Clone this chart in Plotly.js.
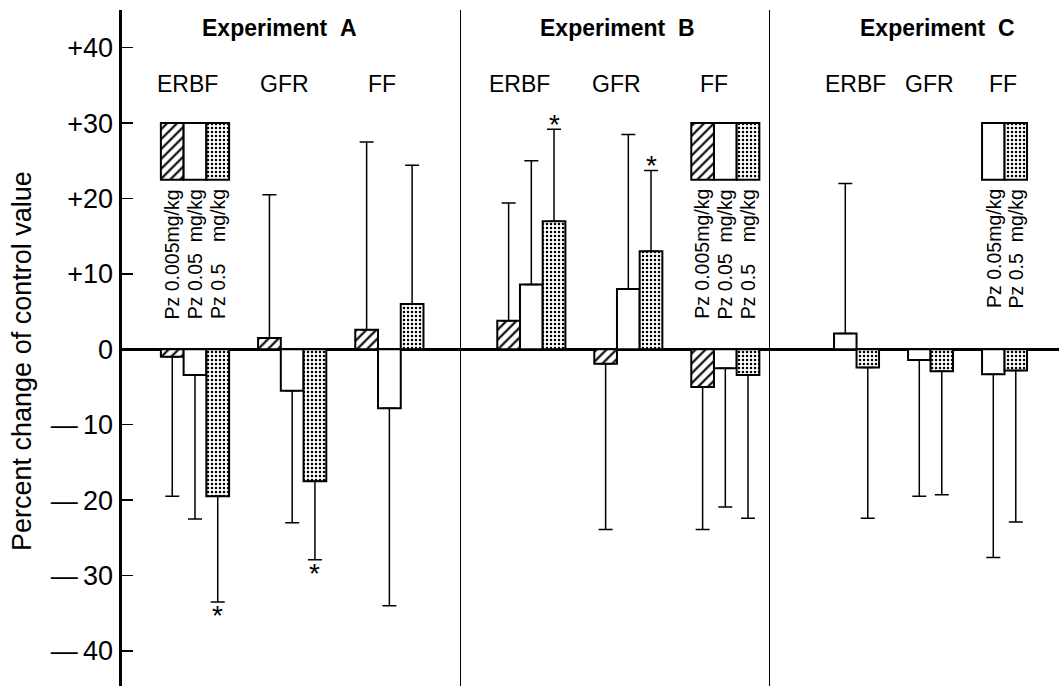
<!DOCTYPE html>
<html><head><meta charset="utf-8">
<script src="https://cdn.plot.ly/plotly-3.0.1.min.js"></script>
<style>html,body{margin:0;padding:0;background:#fff}</style>
</head><body><div id="chart" style="width:1059px;height:686px"></div>
<script>
// ---------------- data ----------------
const groups = ['ERBF', 'GFR', 'FF'];
const experiments = ['Experiment\u00a0\u00a0A', 'Experiment\u00a0\u00a0B', 'Experiment\u00a0\u00a0C'];
const doseNames = ['Pz 0.005mg/kg', 'Pz 0.05\u00a0\u00a0mg/kg', 'Pz 0.5\u00a0\u00a0\u00a0\u00a0mg/kg'];
const doseNamesC = ['Pz 0.05mg/kg', 'Pz 0.5\u00a0\u00a0mg/kg'];

// Experiment A (mean % change, SD)
const expA_low = [-1.0, 1.5, 2.6];
const expA_low_sd = [18.5, 19.0, 24.9];
const expA_mid = [-3.4, -5.5, -7.8];
const expA_mid_sd = [19.1, 17.5, 26.2];
const expA_high = [-19.5, -17.5, 6.0];
const expA_high_sd = [14.0, 10.4, 18.4];
const expA_high_sig = [true, true, false];

// Experiment B
const expB_low = [3.8, -1.9, -5.0];
const expB_low_sd = [15.6, 22.0, 18.9];
const expB_mid = [8.6, 8.0, -2.5];
const expB_mid_sd = [16.4, 20.5, 18.4];
const expB_high = [17.0, 13.0, -3.4];
const expB_high_sd = [12.2, 10.7, 19.0];
const expB_high_sig = [true, true, false];

// Experiment C
const expC_mid = [2.1, -1.4, -3.3];
const expC_mid_sd = [19.9, 18.1, 24.3];
const expC_high = [-2.4, -2.9, -2.8];
const expC_high_sd = [20.0, 16.4, 20.1];

// legend key boxes (drawn on the scale, base and height in % units)
const keyGroup = ['ERBF', 'FF', 'FF'];
const keyBase = 22.5;
const keyHeight = 7.5;

const yTickVals = [40, 30, 20, 10, 0, -10, -20, -30, -40];
const yTickText = ['+40', '+30', '+20', '+10', '0', '\u2014\u200910', '\u2014\u200920', '\u2014\u200930', '\u2014\u200940'];

// ---------------- styles ----------------
const REG = 'Liberation Sans, Arial, sans-serif';
const styles = {
  low: {pattern: {shape: '/', fgcolor: '#000', bgcolor: '#fff', size: 7, solidity: 0.3}},
  mid: {pattern: {shape: '', fgcolor: '#000', bgcolor: '#fff'}},
  high: {pattern: {shape: '.', fgcolor: '#000', bgcolor: '#fff', size: 4, solidity: 0.3}}
};

const panels = [
  {xa: 'x', ya: 'y', series: [
      {key: 'low', v: expA_low, sd: expA_low_sd},
      {key: 'mid', v: expA_mid, sd: expA_mid_sd},
      {key: 'high', v: expA_high, sd: expA_high_sd, sig: expA_high_sig}],
   w: 0.234, labelShift: -0.08, names: doseNames, key: keyGroup[0]},
  {xa: 'x2', ya: 'y2', series: [
      {key: 'low', v: expB_low, sd: expB_low_sd},
      {key: 'mid', v: expB_mid, sd: expB_mid_sd},
      {key: 'high', v: expB_high, sd: expB_high_sd, sig: expB_high_sig}],
   w: 0.234, labelShift: -0.12, names: doseNames, key: keyGroup[1]},
  {xa: 'x3', ya: 'y3', series: [
      {key: 'mid', v: expC_mid, sd: expC_mid_sd},
      {key: 'high', v: expC_high, sd: expC_high_sd}],
   w: 0.304, labelShift: -0.02, names: doseNamesC, key: keyGroup[2]}
];

const traces = [];
const annotations = [];

panels.forEach((p, pi) => {
  const n = p.series.length;
  p.series.forEach((s, si) => {
    const off = (si - n / 2) * p.w;
    const plus = s.v.map((v, i) => v >= 0 ? s.sd[i] : 0);
    const minus = s.v.map((v, i) => v < 0 ? s.sd[i] : 0);
    traces.push({
      type: 'bar', x: groups, y: s.v, xaxis: p.xa, yaxis: p.ya,
      width: p.w, offset: off, showlegend: false, hoverinfo: 'y',
      marker: {color: '#fff', line: {color: '#000', width: 2}, pattern: styles[s.key].pattern},
      error_y: {type: 'data', symmetric: false, array: plus, arrayminus: minus,
                color: '#000', thickness: 1.5, width: 7}
    });
    // legend key box
    traces.push({
      type: 'bar', x: [p.key], y: [keyHeight], base: keyBase, xaxis: p.xa, yaxis: p.ya,
      width: p.w, offset: off, showlegend: false, hoverinfo: 'skip',
      marker: {color: '#fff', line: {color: '#000', width: 2}, pattern: styles[s.key].pattern}
    });
    // legend text (rotated)
    annotations.push({
      xref: p.xa, yref: p.ya, x: groups.indexOf(p.key) + off + p.w / 2, y: keyBase - 1.0,
      text: p.names[si], textangle: -90, showarrow: false, xanchor: 'center', yanchor: 'top',
      font: {family: REG, size: 19.5, color: '#000'}
    });
    // significance marks
    if (s.sig) {
      s.sig.forEach((sg, i) => {
        if (!sg) return;
        const end = s.v[i] >= 0 ? s.v[i] + s.sd[i] : s.v[i] - s.sd[i];
        annotations.push({
          xref: p.xa, yref: p.ya, x: i + off + p.w / 2, y: end, text: '*', showarrow: false,
          xanchor: 'center', yanchor: 'middle', yshift: s.v[i] >= 0 ? 5 : -14,
          font: {family: REG, size: 28, color: '#000'}
        });
      });
    }
  });
  // group labels
  groups.forEach((g, i) => {
    annotations.push({
      xref: p.xa, yref: p.ya, x: i + p.labelShift, y: 35.2, text: g, showarrow: false,
      xanchor: 'center', yanchor: 'middle', font: {family: REG, size: 23, color: '#000'}
    });
  });
});

// experiment titles
const titleX = [0.1676, 0.5293, 0.8698];
experiments.forEach((t, i) => {
  annotations.push({
    xref: 'paper', yref: 'paper', x: titleX[i], y: 0.9734, text: '<b>' + t + '</b>',
    showarrow: false, xanchor: 'center', yanchor: 'middle',
    font: {family: REG, size: 23, color: '#000'}
  });
});

// y title
annotations.push({
  xref: 'paper', yref: 'paper', x: -0.1067, y: 0.4808, text: 'Percent change of control value',
  textangle: -90, showarrow: false, xanchor: 'center', yanchor: 'middle',
  font: {family: REG, size: 27, color: '#000'}
});

const yRange = [-44.65, 45.0];
const xHidden = {showgrid: false, zeroline: false, showline: false, showticklabels: false, ticks: '', fixedrange: true};
const layout = {
  width: 1059, height: 686,
  margin: {l: 122, r: 0, t: 10, b: 0, pad: 0},
  paper_bgcolor: '#fff', plot_bgcolor: 'rgba(0,0,0,0)',
  barmode: 'overlay', showlegend: false,
  xaxis: Object.assign({domain: [0, 0.3618], range: [-0.751, 2.737], type: 'category'}, xHidden),
  xaxis2: Object.assign({domain: [0.3618, 0.6916], range: [-0.725, 2.461], type: 'category'}, xHidden),
  xaxis3: Object.assign({domain: [0.6916, 1], range: [-1.169, 2.736], type: 'category'}, xHidden),
  yaxis: {anchor: 'x', range: yRange, showgrid: false, zeroline: true, zerolinecolor: '#000', zerolinewidth: 3,
          showline: true, linecolor: '#000', linewidth: 3.5, ticks: 'inside', ticklen: 11, tickwidth: 1.5, tickcolor: '#000',
          tickvals: yTickVals, ticktext: yTickText, tickfont: {family: REG, size: 27, color: '#000'}},
  yaxis2: {anchor: 'x2', range: yRange, showgrid: false, zeroline: true, zerolinecolor: '#000', zerolinewidth: 3,
           showline: true, linecolor: '#000', linewidth: 1.5, ticks: '', showticklabels: false},
  yaxis3: {anchor: 'x3', range: yRange, showgrid: false, zeroline: true, zerolinecolor: '#000', zerolinewidth: 3,
           showline: true, linecolor: '#000', linewidth: 1.5, ticks: '', showticklabels: false},
  annotations: annotations
};

Plotly.newPlot('chart', traces, layout, {displayModeBar: false, staticPlot: true});
</script>
</body></html>
